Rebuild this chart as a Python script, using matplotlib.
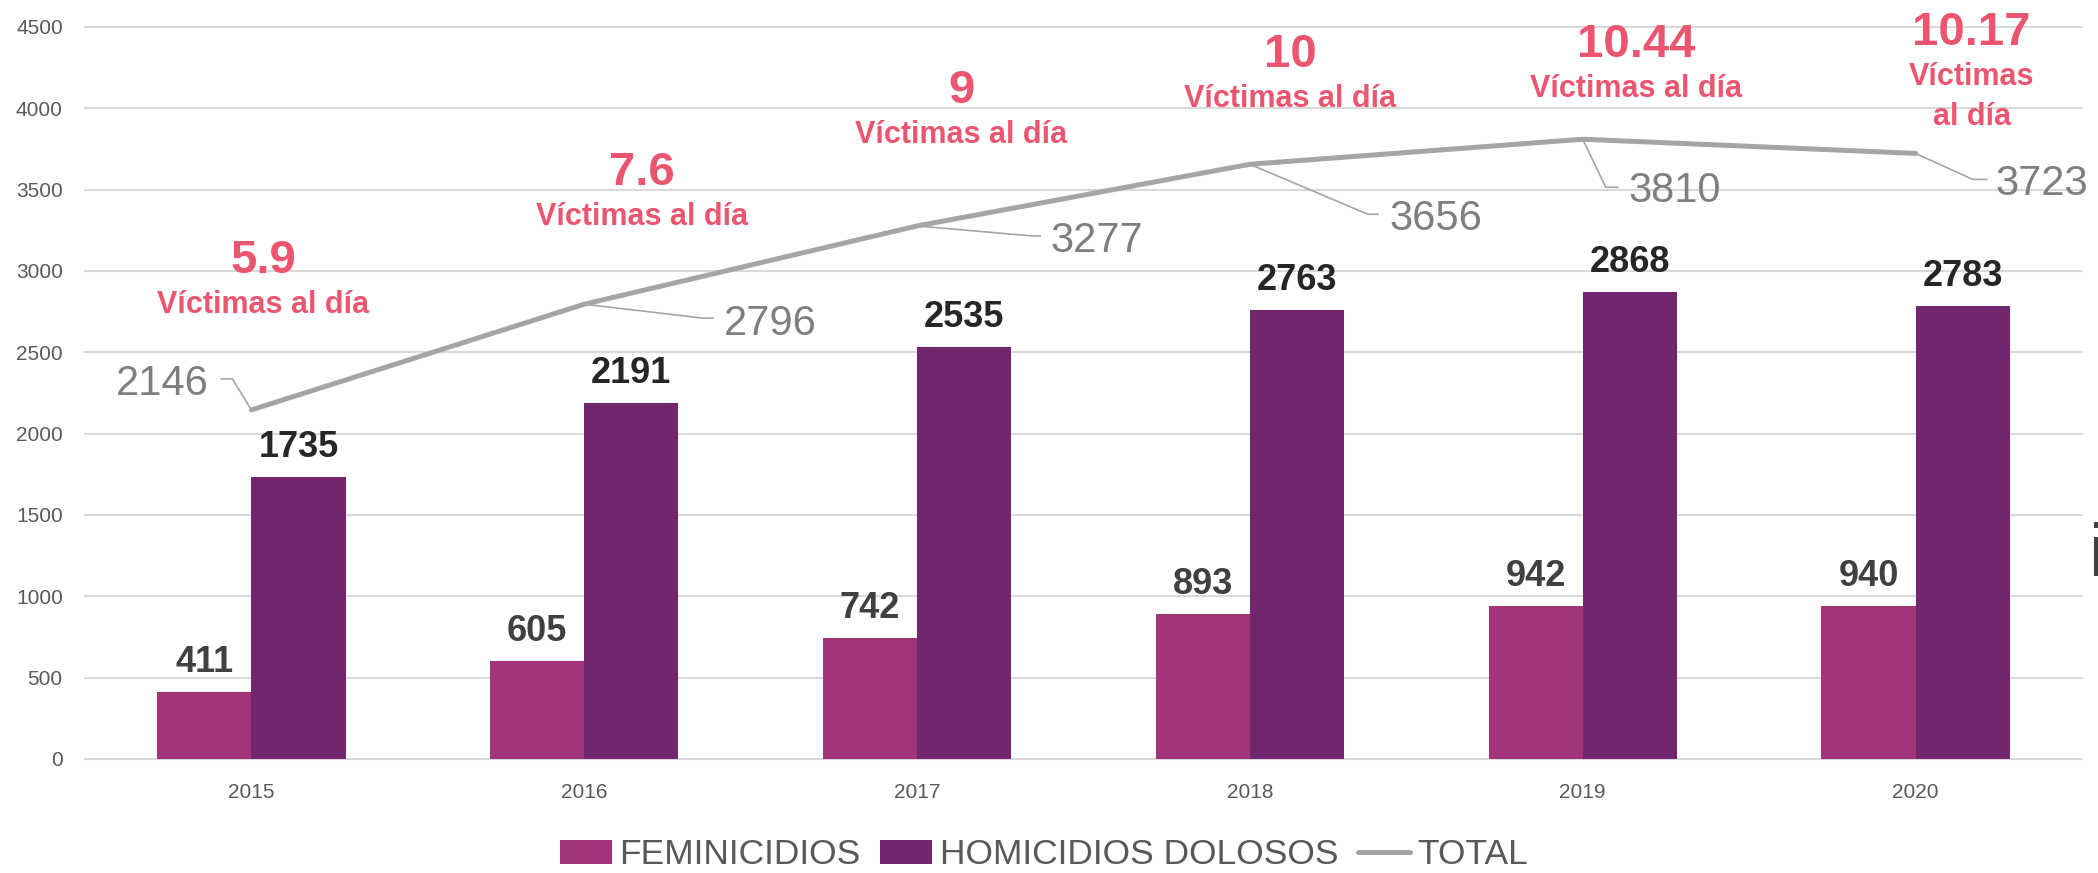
import matplotlib
matplotlib.use('Agg')
import matplotlib.pyplot as plt
from matplotlib.lines import Line2D
from matplotlib.transforms import IdentityTransform
import numpy as np

years = ['2015', '2016', '2017', '2018', '2019', '2020']
feminicidios = [411, 605, 742, 893, 942, 940]
homicidios = [1735, 2191, 2535, 2763, 2868, 2783]
total = [2146, 2796, 3277, 3656, 3810, 3723]
victimas_dia = ['5.9', '7.6', '9', '10', '10.44', '10.17']
victimas_txt = [['Víctimas al día']] * 5 + [['Víctimas', 'al día']]

plt.rcParams['font.family'] = ['Liberation Sans', 'DejaVu Sans']

FEM = '#A23579'
HOM = '#732670'
GRAY = '#A5A5A5'
RED = '#EB5570'

W, H = 2098, 873
fig = plt.figure(figsize=(W / 100, H / 100), dpi=100)
ax = fig.add_axes([85 / W, 114 / H, 1997 / W, 732 / H])

x = np.arange(len(years))
w = 0.283
b1 = ax.bar(x - w / 2, feminicidios, w, color=FEM, label='FEMINICIDIOS', zorder=2)
b2 = ax.bar(x + w / 2, homicidios, w, color=HOM, label='HOMICIDIOS DOLOSOS', zorder=2)
ln, = ax.plot(x, total, color=GRAY, lw=3.6, label='TOTAL', zorder=3,
              solid_joinstyle='round', solid_capstyle='round')

ax.set_xlim(-0.5, len(years) - 0.5)
ax.set_ylim(0, 4500)
ax.set_yticks(range(0, 4501, 500))
ax.set_xticks(x)
ax.set_xticklabels(years)
ax.tick_params(axis='both', length=0, labelsize=15, labelcolor='#595959')
ax.tick_params(axis='y', pad=16)
ax.tick_params(axis='x', pad=17.5)
for s in ax.spines.values():
    s.set_visible(False)
ax.yaxis.grid(True, color='#D9D9D9', lw=1.5)
ax.set_axisbelow(True)
for gl in ax.get_ygridlines():
    gl.set_clip_on(False)

# value labels on bars
for i in range(len(years)):
    ax.annotate(str(feminicidios[i]), (x[i] - w / 2, feminicidios[i]), xytext=(0, 20),
                textcoords='offset pixels', ha='center', va='baseline',
                fontsize=26, fontweight='bold', color='#404040')
    ax.annotate(str(homicidios[i]), (x[i] + w / 2, homicidios[i]), xytext=(0, 20),
                textcoords='offset pixels', ha='center', va='baseline',
                fontsize=26, fontweight='bold', color='#262626')

# victims per day (offsets in pixels from the TOTAL point)
num_off = [(12, 137), (58, 119), (44, 123), (40, 97), (53, 82), (56, 108)]
for i, v in enumerate(total):
    dx, dy = num_off[i]
    ax.annotate(victimas_dia[i], (x[i], v), xytext=(dx, dy), textcoords='offset pixels',
                ha='center', va='baseline', fontsize=34, fontweight='bold', color=RED,
                annotation_clip=False)
    for k, t in enumerate(victimas_txt[i]):
        ax.annotate(t, (x[i], v), xytext=(dx, dy - 40 * (k + 1)), textcoords='offset pixels',
                    ha='center', va='baseline', fontsize=22, fontweight='bold', color=RED,
                    annotation_clip=False)

# TOTAL labels with leader lines
lab_off = [(-89, 15), (186, -31), (180, -26), (186, -66), (92, -63), (126, -42)]
elbow = [(-19, 31), (119, -14), (115, -10), (118, -50), (23, -48), (57, -26)]
end = [(-30, 31), (129, -14), (123, -10), (128, -50), (35, -48), (71, -26)]
for i, v in enumerate(total):
    ax.annotate(str(v), (x[i], v), xytext=lab_off[i], textcoords='offset pixels',
                ha='center', va='baseline', fontsize=30, color='#7F7F7F',
                annotation_clip=False)
    px, py = ax.transData.transform((x[i], v))
    xs = [px, px + elbow[i][0], px + end[i][0]]
    ys = [py, py + elbow[i][1], py + end[i][1]]
    fig.add_artist(Line2D(xs, ys, transform=IdentityTransform(), color=GRAY, lw=1.2))

fig.legend(handles=[b1, b2, ln], loc='center', bbox_to_anchor=(0.4976, 18 / H),
           ncol=3, frameon=False, fontsize=25.5, labelcolor='#595959',
           handlelength=1.47, handleheight=0.65, handletextpad=0.2,
           columnspacing=0.56, borderpad=0, borderaxespad=0)

# cut-off letter at the right edge (as in the source image)
fig.text(2089 / W, (H - 576) / H, 'i', fontsize=54, color='#404040', ha='left', va='baseline')

fig.savefig('out.png', dpi=100)
